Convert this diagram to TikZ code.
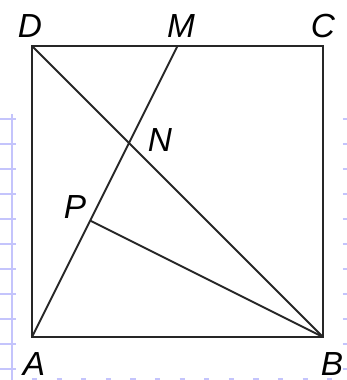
\documentclass[tikz,border=0pt]{standalone}
\usepackage{fontspec}
\setmainfont{Liberation Sans}
\usetikzlibrary{calc}
\definecolor{gridblue}{RGB}{196,196,252}

\begin{document}
\begin{tikzpicture}[
    x=0.02cm, y=-0.02cm,
    edge/.style={line width=1.1pt, color=black!85},
    pointlabel/.style={inner sep=0pt, font=\fontsize{19}{22}\selectfont\itshape},
    paper/.style={color=gridblue, line width=1.4pt}
]
\useasboundingbox (0,0) rectangle (347,380);

% graph paper showing at the edges
\draw[paper] (12,114) -- (12,380);
\foreach \y in {119,144,...,369} {
    \draw[paper] (0,\y) -- (16,\y);
    \draw[paper] (343,\y) -- (347,\y);
}
\draw[paper, dash pattern=on 3pt off 11pt] (32,379.5) -- (347,379.5);

% square
\coordinate (A) at (32,337);
\coordinate (B) at (323,337);
\coordinate (C) at (323,46);
\coordinate (D) at (32,46);
\coordinate (M) at ($(D)!0.5!(C)$);
\coordinate (P) at ($(A)!(B)!(M)$);
\coordinate (N) at (intersection of A--M and D--B);

\fill[white] (A) rectangle (C);
\draw[edge] (A) -- (B) -- (C) -- (D) -- cycle;
\draw[edge] (D) -- (B);
\draw[edge] (A) -- (M);
\draw[edge] (P) -- (B);

% labels
\node[pointlabel] (lD) at (30,26) {D};
\node[pointlabel] (lM) at (181,26) {M};
\node[pointlabel] (lC) at (323,26) {C};
\node[pointlabel] (lN) at (160,140) {N};
\node[pointlabel] (lP) at (75,207) {P};
\node[pointlabel] (lA) at (34,364) {A};
\node[pointlabel] (lB) at (332,364) {B};

\end{tikzpicture}
\end{document}
